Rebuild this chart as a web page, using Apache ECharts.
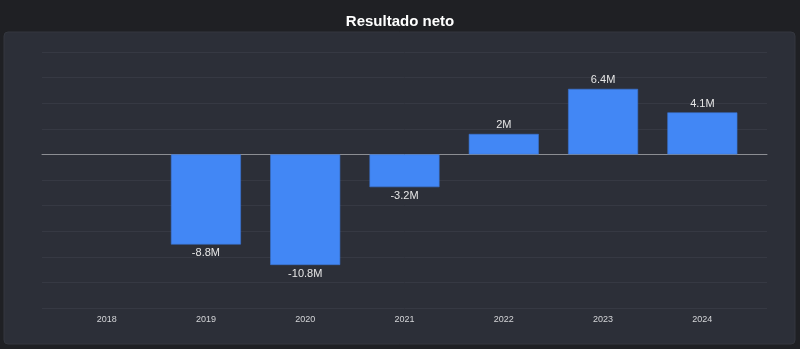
<!DOCTYPE html>
<html>
<head>
<meta charset="utf-8">
<script src="https://cdn.jsdelivr.net/npm/echarts@6/dist/echarts.min.js"></script>
<style>
  html, body { margin: 0; padding: 0; background: #1f2024; }
  #chart { width: 800px; height: 349px; }
</style>
</head>
<body>
<div id="chart"></div>
<script>
// Annual net result, in millions
const years = ['2018', '2019', '2020', '2021', '2022', '2023', '2024'];
const netResult = [null, -8.8, -10.8, -3.2, 2, 6.4, 4.1];

// Value scale (millions)
const yMin = -15;
const yMax = 10;
const yStep = 2.5;

const fmt = v => (Math.round(v * 10) / 10) + 'M';

const chart = echarts.init(document.getElementById('chart'), null, { renderer: 'canvas' });

const fontFamily = 'Liberation Sans, Arial, Helvetica, sans-serif';

chart.setOption({
  backgroundColor: '#1f2024',
  animation: false,
  title: {
    text: 'Resultado neto',
    left: 'center',
    top: 9,
    textStyle: { color: '#ffffff', fontSize: 15, fontWeight: 'bold', fontFamily }
  },
  graphic: [{
    type: 'rect',
    z: -10,
    silent: true,
    shape: { x: 4, y: 32, width: 791, height: 312, r: 4 },
    style: { fill: '#2c2f38', stroke: '#34373f', lineWidth: 1 }
  }],
  grid: [
    // background grid: gridlines and zero baseline across the full plot width
    { left: 42, right: 33, top: 52, bottom: 41 },
    // bars and year labels
    { left: 57, right: 48, top: 52, bottom: 41 }
  ],
  xAxis: [
    {
      gridIndex: 0, type: 'value', min: 0, max: 1,
      axisLine: { show: true, onZero: true, lineStyle: { color: '#8c8e93', width: 1 } },
      axisTick: { show: false }, axisLabel: { show: false }, splitLine: { show: false }
    },
    {
      gridIndex: 1, type: 'category', data: years,
      axisLine: { show: false }, axisTick: { show: false },
      axisLabel: { color: '#d4d5d8', fontSize: 9, margin: 7, fontFamily }
    }
  ],
  yAxis: [
    {
      gridIndex: 0, type: 'value', min: yMin, max: yMax, interval: yStep,
      axisLine: { show: false }, axisTick: { show: false }, axisLabel: { show: false },
      splitLine: { show: true, lineStyle: { color: '#363943', width: 1 } }
    },
    {
      gridIndex: 1, type: 'value', min: yMin, max: yMax, interval: yStep,
      axisLine: { show: false }, axisTick: { show: false }, axisLabel: { show: false },
      splitLine: { show: false }
    }
  ],
  series: [{
    type: 'bar',
    xAxisIndex: 1,
    yAxisIndex: 1,
    barWidth: 70,
    z: 5,
    itemStyle: { color: '#4287f5', borderColor: '#3a73d1', borderWidth: 0.6 },
    data: netResult.map(v => v === null ? null : {
      value: v,
      label: { position: v < 0 ? 'bottom' : 'top' }
    }),
    label: {
      show: true,
      color: '#e6e6e6',
      fontSize: 11,
      fontFamily,
      distance: 3,
      formatter: p => fmt(p.value)
    }
  }]
});
</script>
</body>
</html>
